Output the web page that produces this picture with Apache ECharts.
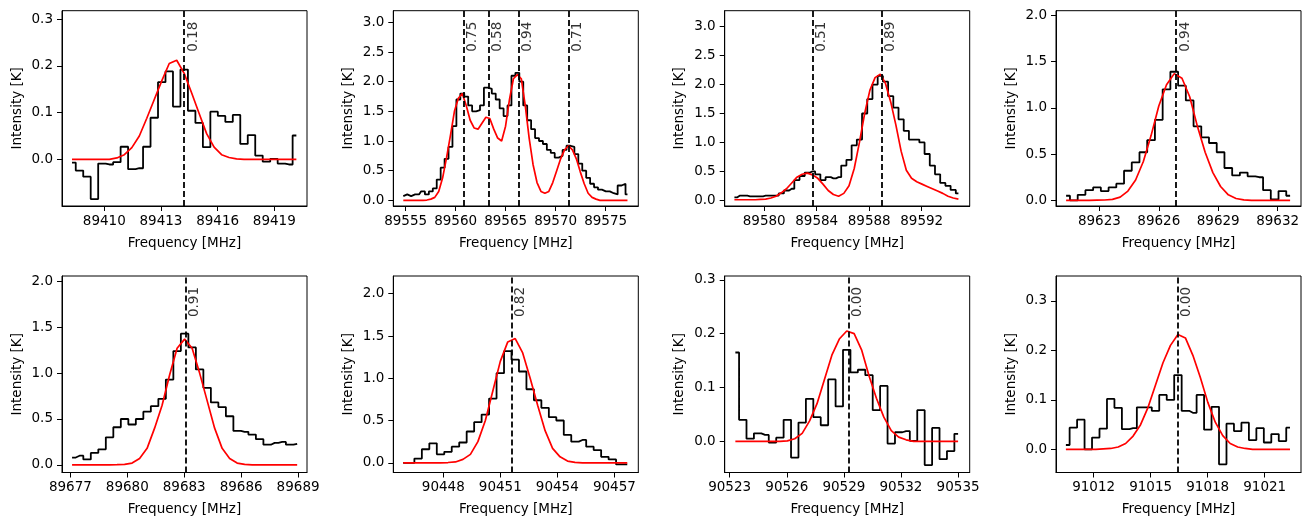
<!DOCTYPE html>
<html><head><meta charset="utf-8">
<script src="https://cdn.jsdelivr.net/npm/echarts@6/dist/echarts.min.js"></script>
<style>html,body{margin:0;padding:0;background:#fff}#c{width:1311px;height:525px}</style>
</head><body><div id="c"></div><script>
// ---- channel grids (first channel frequency [MHz], channel width [MHz]) ----
const chanStart = [89408.29, 89554.77, 89577.73, 89621.32, 89677.09, 90445.89, 90523.30, 91010.54];
const chanWidth = [0.3959, 0.3933, 0.397, 0.390, 0.3954, 0.393, 0.390, 0.393];

// ---- observed spectra [K] ----
const obs1 = [-0.007,-0.024,-0.037,-0.085,-0.009,-0.011,-0.006,0.027,-0.021,-0.019,0.027,0.089,0.165,0.188,0.113,0.192,0.104,0.078,0.026,0.102,0.093,0.08,0.095,0.033,0.052,0.008,-0.005,0.001,-0.009,-0.011,0.051];
const obs2 = [0.07,0.1,0.07,0.1,0.1,0.15,0.1,0.15,0.2,0.35,0.55,0.7,0.9,1.25,1.7,1.8,1.75,1.6,1.5,1.52,1.6,1.9,1.88,1.8,1.7,1.55,1.42,1.6,2.1,2.15,2.0,1.6,1.35,1.2,1.05,1.0,0.95,0.85,0.8,0.72,0.75,0.85,0.92,0.9,0.78,0.62,0.5,0.38,0.28,0.22,0.18,0.15,0.15,0.12,0.1,0.25,0.28,0.1];
const obs3 = [0.05,0.08,0.08,0.07,0.07,0.07,0.08,0.08,0.08,0.12,0.17,0.2,0.35,0.42,0.48,0.5,0.45,0.35,0.4,0.38,0.4,0.6,0.7,0.95,1.05,1.5,1.75,2.0,2.15,2.05,1.8,1.6,1.4,1.2,1.05,1.05,1.0,0.8,0.6,0.45,0.3,0.25,0.18,0.12];
const obs4 = [0.05,0.0,0.06,0.11,0.14,0.1,0.14,0.18,0.32,0.41,0.52,0.65,0.87,1.2,1.39,1.24,1.08,0.8,0.68,0.62,0.52,0.35,0.27,0.3,0.26,0.25,0.11,0.01,0.1,0.05];
const obs5 = [0.08,0.1,0.06,0.13,0.17,0.3,0.41,0.5,0.44,0.5,0.58,0.64,0.72,0.93,1.24,1.43,1.28,1.04,0.84,0.68,0.63,0.53,0.37,0.36,0.33,0.28,0.22,0.24,0.25,0.22,0.23];
const obs6 = [0.0,0.0,0.05,0.16,0.23,0.1,0.13,0.19,0.24,0.37,0.48,0.57,0.76,1.06,1.32,1.22,1.08,0.87,0.74,0.65,0.54,0.5,0.33,0.25,0.27,0.19,0.15,0.07,0.04,-0.02,-0.02];
const obs7 = [0.165,0.04,0.005,0.015,0.012,-0.002,0.007,0.04,-0.03,0.035,0.079,0.045,0.03,0.115,0.065,0.17,0.128,0.133,0.123,0.058,0.103,-0.004,0.017,0.019,0.001,0.058,-0.044,0.025,-0.033,-0.018,0.014];
const obs8 = [0.009,0.044,0.06,0.0,0.024,0.042,0.102,0.084,0.041,0.043,0.085,0.085,0.078,0.11,0.1,0.15,0.078,0.074,0.11,0.04,0.086,-0.03,0.052,0.037,0.054,0.019,0.043,0.014,0.031,0.017,0.044];

// ---- model fits [K] (read at the same channels) ----
const fit1 = [0,0,0,0,0,0,0.003,0.01,0.025,0.05,0.088,0.128,0.168,0.205,0.212,0.184,0.142,0.098,0.055,0.026,0.01,0.004,0.001,0,0,0,0,0,0,0,0];
const fit2 = [0,0,0,0,0,0,0.005,0.02,0.05,0.15,0.38,0.72,1.1,1.5,1.72,1.8,1.6,1.35,1.22,1.2,1.3,1.4,1.38,1.2,1.05,1.0,1.25,1.7,2.05,2.12,2.05,1.6,1.05,0.6,0.3,0.15,0.12,0.15,0.3,0.5,0.7,0.85,0.92,0.85,0.7,0.48,0.28,0.12,0.05,0.02,0,0,0,0,0,0,0,0];
const fit3 = [0.01,0.01,0.01,0.01,0.01,0.015,0.02,0.04,0.07,0.13,0.2,0.3,0.4,0.45,0.47,0.44,0.38,0.28,0.17,0.1,0.07,0.12,0.25,0.55,1.0,1.5,1.9,2.12,2.18,2.02,1.7,1.3,0.85,0.52,0.38,0.32,0.28,0.24,0.2,0.16,0.12,0.07,0.04,0.02];
const fit4 = [0,0,0,0,0.002,0.004,0.01,0.035,0.1,0.22,0.42,0.7,1.02,1.25,1.37,1.32,1.12,0.8,0.52,0.3,0.15,0.06,0.02,0.005,0,0,0,0,0,0];
const fit5 = [0,0,0,0,0,0,0.002,0.005,0.02,0.07,0.18,0.4,0.65,0.98,1.27,1.37,1.27,1.0,0.7,0.4,0.18,0.07,0.02,0.005,0,0,0,0,0,0,0];
const fit6 = [0,0,0,0,0,0,0.003,0.01,0.04,0.1,0.25,0.5,0.85,1.2,1.43,1.47,1.3,1.0,0.68,0.38,0.17,0.07,0.02,0.005,0,0,0,0,0,0,0];
const fit7 = [0,0,0,0,0,0,0,0.001,0.005,0.015,0.038,0.07,0.115,0.16,0.19,0.205,0.2,0.17,0.122,0.08,0.045,0.02,0.008,0.003,0,0,0,0,0,0,0];
const fit8 = [0,0,0,0,0,0.001,0.002,0.005,0.012,0.027,0.05,0.085,0.13,0.175,0.21,0.232,0.225,0.19,0.145,0.095,0.055,0.028,0.012,0.005,0.002,0,0,0,0,0,0];

// ---- marked transitions ----
const lineFreqs = [[89414.22],[89560.83,89563.33,89566.33,89571.30],[89583.69,89588.92],[89626.87],[89683.09],[90451.61],[90529.26],[91016.42]];
const lineLabels = [['0.18'],['0.75','0.58','0.94','0.71'],['0.51','0.89'],['0.94'],['0.91'],['0.82'],['0.00'],['0.00']];

// ---- axes ----
const xTicks = [[89410,89413,89416,89419],[89555,89560,89565,89570,89575],[89580,89584,89588,89592],[89623,89626,89629,89632],[89677,89680,89683,89686,89689],[90448,90451,90454,90457],[90523,90526,90529,90532,90535],[91012,91015,91018,91021]];
const yTicks = [[0,0.1,0.2,0.3],[0,0.5,1,1.5,2,2.5,3],[0,0.5,1,1.5,2,2.5,3],[0,0.5,1,1.5,2],[0,0.5,1,1.5,2],[0,0.5,1,1.5,2],[0,0.1,0.2,0.3],[0,0.1,0.2,0.3]];
const xRange = [[89407.76,89420.73],[89553.77,89578.27],[89576.99,89595.66],[89620.81,89633.18],[89676.56,89689.47],[90445.37,90458.26],[90522.74,90535.61],[91010.02,91022.91]];
const yRange = [[-0.0998,0.318],[-0.0955,3.197],[-0.098,3.276],[-0.061,2.05],[-0.083,2.058],[-0.115,2.21],[-0.0577,0.307],[-0.0465,0.35]];

const obsAll = [obs1,obs2,obs3,obs4,obs5,obs6,obs7,obs8];
const fitAll = [fit1,fit2,fit3,fit4,fit5,fit6,fit7,fit8];

const FONT = 'DejaVu Sans', FS = 13.5;
const lefts = [62, 393.3, 724.7, 1056];
const tops = [10.7, 276];
const heights = [195.3, 196.5];
const W = 245;

const grids = [], xAxes = [], yAxes = [], series = [];
for (let k = 0; k < 8; k++) {
  const row = k >> 2, col = k % 4;
  grids.push({left: lefts[col], top: tops[row], width: W, height: heights[row],
    show: true, borderColor: '#000', borderWidth: 1, backgroundColor: 'transparent',
    containLabel: false, outerBoundsMode: 'none'});
  const txt = {color: '#000', fontFamily: FONT, fontSize: FS};
  xAxes.push({type: 'value', gridIndex: k, min: xRange[k][0], max: xRange[k][1],
    name: 'Frequency [MHz]', nameLocation: 'middle', nameGap: 30, nameTextStyle: txt,
    axisLine: {show: true, onZero: false, lineStyle: {color: '#000', width: 1}},
    axisTick: {show: true, inside: false, length: 5, customValues: xTicks[k], lineStyle: {color: '#000', width: 1}},
    axisLabel: Object.assign({customValues: xTicks[k], margin: 8, formatter: v => String(Math.round(v))}, txt),
    splitLine: {show: false}});
  yAxes.push({type: 'value', gridIndex: k, min: yRange[k][0], max: yRange[k][1],
    name: 'Intensity [K]', nameLocation: 'middle', nameGap: 38, nameTextStyle: txt,
    axisLine: {show: true, onZero: false, lineStyle: {color: '#000', width: 1}},
    axisTick: {show: true, inside: false, length: 5, customValues: yTicks[k], lineStyle: {color: '#000', width: 1}},
    axisLabel: Object.assign({customValues: yTicks[k], margin: 9, formatter: v => v.toFixed(1)}, txt),
    splitLine: {show: false}});
  const freqs = obsAll[k].map((_, i) => chanStart[k] + i * chanWidth[k]);
  series.push({type: 'line', xAxisIndex: k, yAxisIndex: k, step: 'middle', symbol: 'none', silent: true, z: 2,
    lineStyle: {color: '#000', width: 1.8}, data: freqs.map((f, i) => [f, obsAll[k][i]])});
  series.push({type: 'line', xAxisIndex: k, yAxisIndex: k, symbol: 'none', silent: true, z: 3,
    lineStyle: {color: '#ff0000', width: 1.7}, data: freqs.map((f, i) => [f, fitAll[k][i]])});
  series.push({type: 'scatter', xAxisIndex: k, yAxisIndex: k, symbolSize: 0, silent: true, z: 5, clip: false,
    data: lineFreqs[k].map((f, j) => [f, yRange[k][1], lineLabels[k][j]]),
    label: {show: true, formatter: p => p.data[2], rotate: 90, position: [2, 11], align: 'right', verticalAlign: 'top',
      color: '#000', fontFamily: FONT, fontSize: FS},
    markLine: {silent: true, symbol: ['none', 'none'], label: {show: false}, z: 4,
      lineStyle: {color: '#000', type: [6, 3], width: 1.8},
      data: lineFreqs[k].map(f => ({xAxis: f}))}});
}

const chart = echarts.init(document.getElementById('c'), null, {renderer: 'canvas'});
chart.setOption({backgroundColor: '#fff', animation: false, grid: grids, xAxis: xAxes, yAxis: yAxes, series: series});
</script></body></html>
